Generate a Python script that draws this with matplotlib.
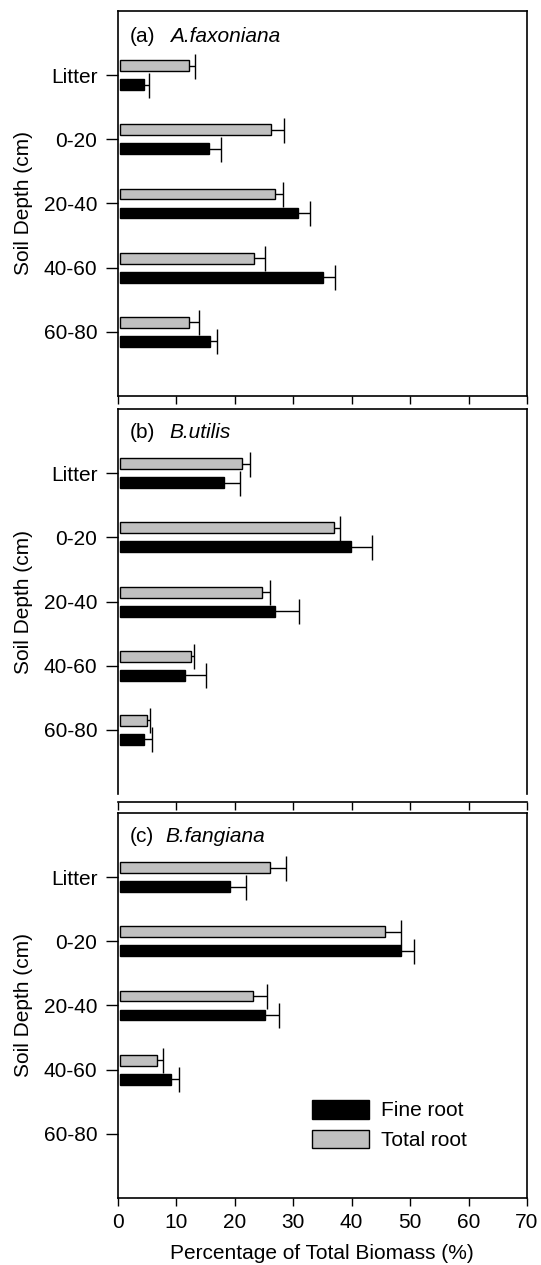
import numpy as np
import matplotlib
matplotlib.use('Agg')
import matplotlib.pyplot as plt
from matplotlib.patches import Patch

plt.rcParams['font.family'] = ['Liberation Sans', 'DejaVu Sans']

depths = ['Litter', '0-20', '20-40', '40-60', '60-80']
panels = ['(a)', '(b)', '(c)']
species = ['A.faxoniana', 'B.utilis', 'B.fangiana']

# percentage of total biomass, per panel
fine_root = [
    [4.1, 15.2, 30.5, 34.7, 15.4],
    [17.8, 39.5, 26.5, 11.2, 4.1],
    [18.8, 48.0, 24.8, 8.8, 0.0],
]
fine_err = [
    [0.9, 2.1, 2.0, 2.0, 1.2],
    [2.8, 3.6, 4.1, 3.5, 1.4],
    [2.7, 2.3, 2.4, 1.3, 0.0],
]
total_root = [
    [11.8, 25.9, 26.5, 22.9, 11.9],
    [20.9, 36.6, 24.3, 12.2, 4.7],
    [25.6, 45.4, 22.7, 6.3, 0.0],
]
total_err = [
    [1.1, 2.2, 1.4, 1.9, 1.7],
    [1.3, 1.1, 1.3, 0.5, 0.4],
    [2.8, 2.7, 2.4, 1.1, 0.0],
]

grey = '#c0c0c0'
fs = 15

fig = plt.figure(figsize=(5.41, 12.65), dpi=100)
left, width = 0.2172, 0.757
boxes = [(0.6870, 0.3043), (0.3723, 0.3043), (0.0530, 0.3043)]
label_x = [0.128, 0.126, 0.116]
label_y = [0.935, 0.938, 0.938]

y = np.arange(len(depths))
h = 0.17
off = 0.148


def draw_bars(ax, pos, vals, errs, color):
    ok = vals > 0
    bars = ax.barh(pos[ok], vals[ok], height=h, color=color, edgecolor='black',
                   linewidth=1.0, left=0.4,
                   xerr=[np.zeros(ok.sum()), errs[ok]],
                   error_kw=dict(ecolor='black', elinewidth=1.0, capsize=9,
                                 capthick=1.0))
    # one-sided error bars: hide the cap at the bar end
    caps = bars.errorbar.lines[1]
    if len(caps) > 1:
        caps[0].set_visible(False)


for i in range(3):
    ax = fig.add_axes([left, boxes[i][0], width, boxes[i][1]])
    draw_bars(ax, y - off, np.array(total_root[i]), np.array(total_err[i]), grey)
    draw_bars(ax, y + off, np.array(fine_root[i]), np.array(fine_err[i]), 'black')
    ax.set_xlim(0, 70)
    ax.set_ylim(5, -1)
    ax.set_yticks(y)
    ax.set_yticklabels(depths, fontsize=fs)
    ax.set_xticks(np.arange(0, 71, 10))
    ax.tick_params(axis='y', direction='out', length=9, width=1.0, pad=5.5)
    ax.tick_params(axis='x', direction='out', length=5.8, width=1.0, pad=5,
                   labelsize=fs)
    for s in ax.spines.values():
        s.set_linewidth(1.2)
    ax.set_ylabel('Soil Depth (cm)', fontsize=fs, labelpad=8)
    ax.text(0.031, label_y[i], panels[i], transform=ax.transAxes, fontsize=fs,
            va='center', ha='left')
    ax.text(label_x[i], label_y[i], species[i], transform=ax.transAxes,
            fontsize=fs, style='italic', va='center', ha='left')
    if i < 2:
        ax.set_xticklabels([])
    if i == 1:
        ax.spines['bottom'].set_position(('outward', 5.8))
    if i == 2:
        ax.set_xlabel('Percentage of Total Biomass (%)', fontsize=fs, labelpad=9)
        handles = [Patch(facecolor='black', edgecolor='black', linewidth=1.0),
                   Patch(facecolor=grey, edgecolor='black', linewidth=1.0)]
        ax.legend(handles, ['Fine root', 'Total root'], loc='upper left',
                  bbox_to_anchor=(0.475, 0.2545), frameon=False, fontsize=fs,
                  borderpad=0, borderaxespad=0, handlelength=2.74,
                  handleheight=1.0, labelspacing=0.45, handletextpad=0.58)

fig.savefig('out.png', dpi=100)
